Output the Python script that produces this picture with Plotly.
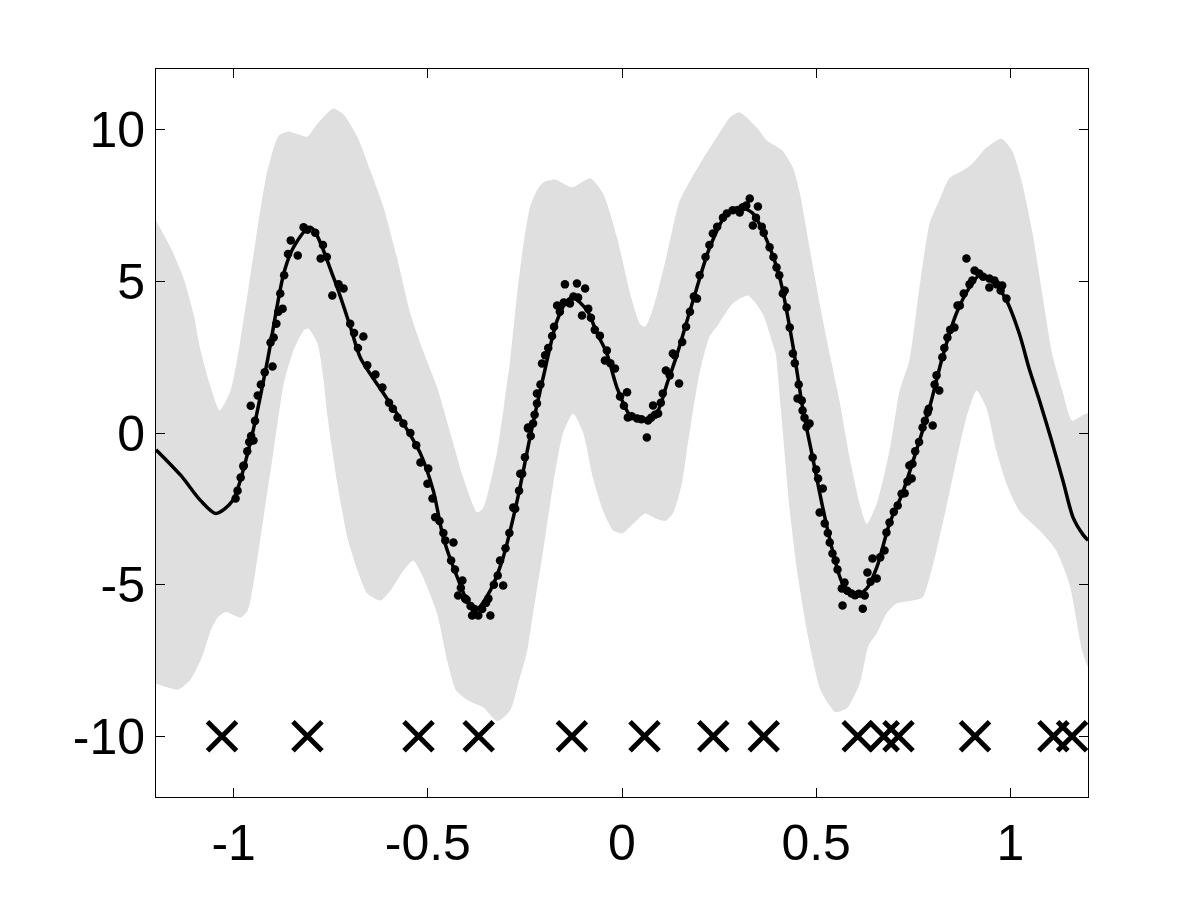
import plotly.graph_objects as go

# ---- predictive mean ----
mean_x = [-1.2, -1.136, -1.085, -1.046, -1.003, -0.956, -0.913, -0.871, -0.846, -0.802,
          -0.743, -0.699, -0.674, -0.614, -0.563, -0.519, -0.486, -0.460, -0.424, -0.391,
          -0.373, -0.339, -0.306, -0.270, -0.237, -0.203, -0.167, -0.141, -0.126, -0.090,
          -0.064, -0.039, -0.013, 0.021, 0.054, 0.090, 0.116, 0.141, 0.183, 0.226,
          0.270, 0.303, 0.337, 0.373, 0.406, 0.440, 0.465, 0.491, 0.517, 0.542,
          0.568, 0.599, 0.630, 0.656, 0.689, 0.722, 0.758, 0.792, 0.825, 0.861,
          0.895, 0.920, 0.954, 0.990, 1.023, 1.049, 1.075, 1.105, 1.136, 1.162, 1.187, 1.2]
mean_y = [-0.55, -1.40, -2.23, -2.65, -2.23, -0.25, 2.39, 5.26, 6.12, 6.78,
          5.13, 3.48, 2.49, 1.30, 0.31, -0.68, -1.90, -3.45, -4.76, -5.70,
          -5.79, -5.19, -4.10, -2.23, -0.15, 1.83, 3.71, 4.37, 4.47, 4.04,
          3.28, 2.62, 1.50, 0.58, 0.41, 0.68, 1.63, 2.56, 4.37, 6.12,
          7.24, 7.44, 7.24, 6.35, 5.13, 2.89, 0.84, -0.81, -2.46, -3.87,
          -4.96, -5.36, -5.13, -4.43, -2.98, -1.99, -0.58, 0.84, 2.49, 3.94,
          4.80, 5.19, 5.03, 4.37, 3.28, 2.10, 1.07, -0.20, -1.60, -2.80, -3.35, -3.54]

# ---- confidence band ----
upper_x = [-1.2, -1.162, -1.129, -1.103, -1.085, -1.059, -1.036, -1.008, -0.990, -0.964,
           -0.938, -0.913, -0.884, -0.859, -0.835, -0.810, -0.784, -0.743, -0.717, -0.681,
           -0.648, -0.614, -0.578, -0.545, -0.512, -0.476, -0.442, -0.409, -0.373, -0.357,
           -0.321, -0.303, -0.288, -0.270, -0.254, -0.237, -0.219, -0.203, -0.172, -0.129,
           -0.082, -0.049, -0.013, 0.021, 0.046, 0.059, 0.080, 0.116, 0.149, 0.201,
           0.244, 0.278, 0.303, 0.347, 0.373, 0.414, 0.440, 0.458, 0.483, 0.509,
           0.535, 0.560, 0.586, 0.612, 0.630, 0.656, 0.689, 0.715, 0.740, 0.766,
           0.792, 0.817, 0.843, 0.877, 0.902, 0.938, 0.977, 1.005, 1.031, 1.057,
           1.082, 1.108, 1.134, 1.159, 1.2]
upper_y = [7.0, 6.1, 5.1, 3.9, 2.7, 1.5, 0.74, 1.4, 2.5, 4.6,
           6.8, 8.65, 9.8, 9.94, 9.85, 9.77, 10.2, 10.7, 10.5, 9.75,
           8.65, 7.44, 5.7, 3.94, 2.7, 1.5, 0.0, -1.47, -2.62, -2.46,
           -0.58, 1.0, 2.4, 4.6, 6.2, 7.44, 8.0, 8.26, 8.36, 8.1,
           8.4, 7.9, 6.45, 4.6, 3.6, 3.5, 4.1, 5.9, 7.67, 8.88,
           9.75, 10.4, 10.57, 10.07, 9.64, 9.3, 8.75, 7.9, 6.1, 4.27,
           2.6, 1.07, -0.8, -2.33, -3.0, -2.33, -0.58, 1.4, 2.4, 4.8,
           6.9, 7.67, 8.4, 8.65, 8.88, 9.4, 9.7, 9.3, 8.2, 6.6,
           4.6, 2.6, 1.4, 0.41, 0.64]
lower_x = [-1.2, -1.144, -1.113, -1.082, -1.059, -1.041, -1.021, -0.982, -0.964, -0.949,
           -0.923, -0.897, -0.871, -0.846, -0.820, -0.807, -0.784, -0.769, -0.758, -0.733,
           -0.707, -0.681, -0.656, -0.622, -0.596, -0.563, -0.537, -0.512, -0.476, -0.450,
           -0.427, -0.396, -0.357, -0.321, -0.288, -0.265, -0.244, -0.229, -0.203, -0.177,
           -0.152, -0.126, -0.100, -0.075, -0.049, -0.023, 0.0, 0.028, 0.059, 0.080,
           0.111, 0.131, 0.154, 0.167, 0.183, 0.201, 0.226, 0.244, 0.285, 0.324,
           0.362, 0.388, 0.396, 0.409, 0.432, 0.452, 0.481, 0.512, 0.550, 0.581,
           0.612, 0.635, 0.656, 0.681, 0.707, 0.748, 0.774, 0.792, 0.810, 0.835,
           0.861, 0.887, 0.913, 0.938, 0.964, 0.990, 1.023, 1.075, 1.118, 1.152,
           1.185, 1.2]
lower_y = [-8.26, -8.46, -8.16, -7.4, -6.5, -6.08, -5.9, -6.08, -5.85, -4.96,
           -2.78, -0.58, 1.63, 2.72, 3.38, 3.44, 2.95, 1.8, 0.51, -1.67,
           -3.45, -4.53, -5.29, -5.52, -5.19, -4.53, -4.2, -4.76, -5.95, -7.5,
           -8.49, -8.82, -9.05, -9.5, -9.15, -8.16, -7.17, -5.95, -3.87, -1.67,
           -0.02, 0.64, 0.0, -1.47, -2.56, -3.21, -3.31, -3.0, -2.65, -2.78,
           -2.9, -2.65, -1.67, -0.58, 0.74, 2.06, 3.2, 3.5, 4.27, 4.53,
           3.94, 2.95, 2.6, 0.8, -2.56, -4.64, -6.84, -8.49, -9.2, -9.05,
           -8.26, -7.0, -6.6, -5.95, -5.62, -5.52, -5.42, -4.76, -3.87, -2.46,
           -0.91, 0.51, 1.4, 0.84, -0.58, -1.67, -2.56, -3.21, -3.87, -4.96,
           -7.17, -7.7]

# ---- observations ----
obs_x = [-0.995, -0.99, -0.982, -0.975, -0.974, -0.965, -0.96, -0.956, -0.955, -0.949,
         -0.945, -0.938, -0.93, -0.92, -0.905, -0.9, -0.897, -0.89, -0.885, -0.88,
         -0.874, -0.87, -0.86, -0.853, -0.835, -0.82, -0.81, -0.79, -0.776, -0.77,
         -0.76, -0.746, -0.73, -0.717, -0.70, -0.69, -0.68, -0.666, -0.656, -0.635,
         -0.617, -0.60, -0.59, -0.578, -0.563, -0.545, -0.53, -0.519, -0.501, -0.499,
         -0.488, -0.481, -0.47, -0.46, -0.455, -0.44, -0.434, -0.43, -0.422, -0.415,
         -0.411, -0.404, -0.40, -0.39, -0.386, -0.38, -0.37, -0.36, -0.35, -0.344,
         -0.339, -0.33, -0.32, -0.314, -0.306, -0.30, -0.29, -0.28, -0.275, -0.265,
         -0.262, -0.257, -0.25, -0.242, -0.242, -0.235, -0.229, -0.225, -0.219, -0.219,
         -0.21, -0.206, -0.198, -0.19, -0.18, -0.175, -0.167, -0.16, -0.15, -0.147,
         -0.134, -0.125, -0.116, -0.113, -0.103, -0.095, -0.087, -0.08, -0.07, -0.057,
         -0.044, -0.039, -0.03, -0.018, -0.005, 0.005, 0.013, 0.015, 0.025, 0.039,
         0.05, 0.064, 0.067, 0.075, 0.08, 0.085, 0.093, 0.10, 0.105, 0.113,
         0.123, 0.131, 0.136, 0.147, 0.155, 0.165, 0.175, 0.185, 0.193, 0.20,
         0.215, 0.225, 0.234, 0.245, 0.26, 0.27, 0.285, 0.303, 0.311, 0.32,
         0.329, 0.337, 0.345, 0.35, 0.36, 0.365, 0.38, 0.39, 0.398, 0.405,
         0.414, 0.419, 0.424, 0.432, 0.44, 0.445, 0.452, 0.455, 0.463, 0.465,
         0.47, 0.475, 0.483, 0.491, 0.50, 0.505, 0.509, 0.517, 0.522, 0.53,
         0.535, 0.542, 0.55, 0.555, 0.566, 0.568, 0.573, 0.58, 0.591, 0.60,
         0.61, 0.62, 0.625, 0.632, 0.64, 0.645, 0.656, 0.665, 0.676, 0.681,
         0.689, 0.70, 0.71, 0.72, 0.728, 0.735, 0.74, 0.746, 0.748, 0.755,
         0.765, 0.774, 0.78, 0.787, 0.79, 0.80, 0.805, 0.81, 0.817, 0.825,
         0.83, 0.838, 0.845, 0.856, 0.864, 0.87, 0.88, 0.887, 0.895, 0.902,
         0.908, 0.92, 0.93, 0.946, 0.946, 0.959, 0.965, 0.975, 0.979, 0.99]
obs_y = [-2.16, -1.9, -1.47, -1.1, -1.07, -0.6, -0.3, 0.9, -0.1, -0.25,
         0.4, 1.24, 1.6, 2.0, 2.98, 2.19, 3.15, 3.6, 4.0, 4.6,
         4.1, 5.2, 5.9, 6.35, 5.85, 6.78, 6.7, 6.6, 5.75, 6.2,
         5.8, 4.53, 4.9, 4.76, 3.6, 3.3, 2.8, 3.18, 2.23, 1.93,
         1.5, 1.0, 0.8, 0.51, 0.31, 0.0, -0.4, -0.97, -1.67, -1.17,
         -2.16, -2.78, -2.9, -3.3, -3.54, -4.2, -3.61, -4.5, -5.36, -5.1,
         -4.86, -5.46, -5.5, -5.7, -6.02, -5.8, -6.02, -5.8, -5.6, -5.46,
         -6.02, -5.0, -4.7, -4.2, -5.03, -3.8, -3.3, -2.46, -2.5, -1.9,
         -1.34, -1.34, -0.8, 0.15, 0.18, -0.1, 0.31, 0.6, 1.3, 0.97,
         1.6, 2.29, 2.56, 2.8, 3.2, 3.5, 4.2, 4.0, 4.3, 4.9,
         4.27, 4.5, 4.93, 4.47, 3.87, 4.76, 4.1, 3.8, 3.4, 3.21,
         2.39, 2.72, 2.3, 2.13, 1.2, 0.9, 1.34, 0.51, 0.55, 0.48,
         0.45, -0.15, 0.41, 0.5, 0.91, 0.6, 0.64, 1.0, 1.3, 2.06,
         1.9, 2.62, 2.56, 1.63, 3.0, 3.5, 4.0, 4.5, 4.43, 5.2,
         5.8, 6.2, 6.58, 6.8, 7.1, 7.24, 7.34, 7.27, 7.44, 7.5,
         7.73, 6.84, 7.1, 7.47, 6.8, 6.6, 6.12, 5.8, 5.46, 5.2,
         4.6, 4.7, 4.14, 3.48, 2.62, 2.3, 1.14, 1.6, 1.07, 0.74,
         0.5, 0.2, 0.31, -0.81, -1.2, -1.5, -2.62, -1.83, -2.98, -3.3,
         -3.61, -3.97, -4.2, -4.5, -5.13, -5.69, -4.93, -5.2, -5.29, -5.35,
         -5.3, -5.79, -5.36, -4.6, -4.9, -4.14, -4.8, -4.1, -3.87, -3.28,
         -2.95, -2.6, -2.39, -2.0, -1.99, -1.6, -1.07, -1.5, -1.01, -0.6,
         -0.3, 0.18, 0.4, 0.68, 0.8, 0.25, 1.6, 1.9, 1.4, 2.5,
         2.8, 3.15, 3.4, 3.48, 4.2, 4.2, 4.6, 5.75, 4.9, 5.03,
         5.36, 5.26, 5.15, 5.09, 4.8, 5.03, 4.9, 4.7, 4.86, 4.43]

# ---- inducing inputs ----
ind_x = [-1.03, -0.81, -0.524, -0.369, -0.129, 0.058, 0.235, 0.365, 0.607, 0.674,
         0.712, 0.909, 1.111, 1.159]
ind_y = [-10] * len(ind_x)

x_ticks = [-1, -0.5, 0, 0.5, 1]
x_ticktext = ["-1", "-0.5", "0", "0.5", "1"]
y_ticks = [-10, -5, 0, 5, 10]
y_ticktext = ["-10", "-5", "0", "5", "10"]

fig = go.Figure()
fig.add_trace(go.Scatter(
    x=upper_x + lower_x[::-1], y=upper_y + lower_y[::-1],
    fill="toself", fillcolor="#dfdfdf", mode="lines",
    line=dict(width=0, color="#dfdfdf", shape="spline", smoothing=0.6),
    hoverinfo="skip", showlegend=False))
fig.add_trace(go.Scatter(
    x=mean_x, y=mean_y, mode="lines",
    line=dict(color="black", width=3.5, shape="spline", smoothing=0.8),
    showlegend=False))
fig.add_trace(go.Scatter(
    x=obs_x, y=obs_y, mode="markers",
    marker=dict(color="black", size=8.5, symbol="circle"),
    showlegend=False))
fig.add_trace(go.Scatter(
    x=ind_x, y=ind_y, mode="markers",
    marker=dict(symbol="x-thin", size=29, line=dict(color="black", width=5)),
    showlegend=False))

axis_font = dict(family="Liberation Sans, Arial, sans-serif", size=50, color="black")
fig.update_xaxes(range=[-1.2, 1.2], tickvals=x_ticks, ticktext=x_ticktext,
                 showgrid=False, zeroline=False, showline=True, linecolor="black",
                 linewidth=1, mirror="ticks", ticks="inside", ticklen=9,
                 tickcolor="black", tickwidth=1, tickfont=axis_font,
                 ticklabelstandoff=2)
fig.update_yaxes(range=[-12, 12], tickvals=y_ticks, ticktext=y_ticktext,
                 showgrid=False, zeroline=False, showline=True, linecolor="black",
                 linewidth=1, mirror="ticks", ticks="inside", ticklen=9,
                 tickcolor="black", tickwidth=1, tickfont=axis_font,
                 ticklabelstandoff=0)
fig.update_layout(width=1200, height=900, plot_bgcolor="white", paper_bgcolor="white",
                  margin=dict(l=148, r=120, t=61, b=111), showlegend=False)
fig.write_html("out.html")
